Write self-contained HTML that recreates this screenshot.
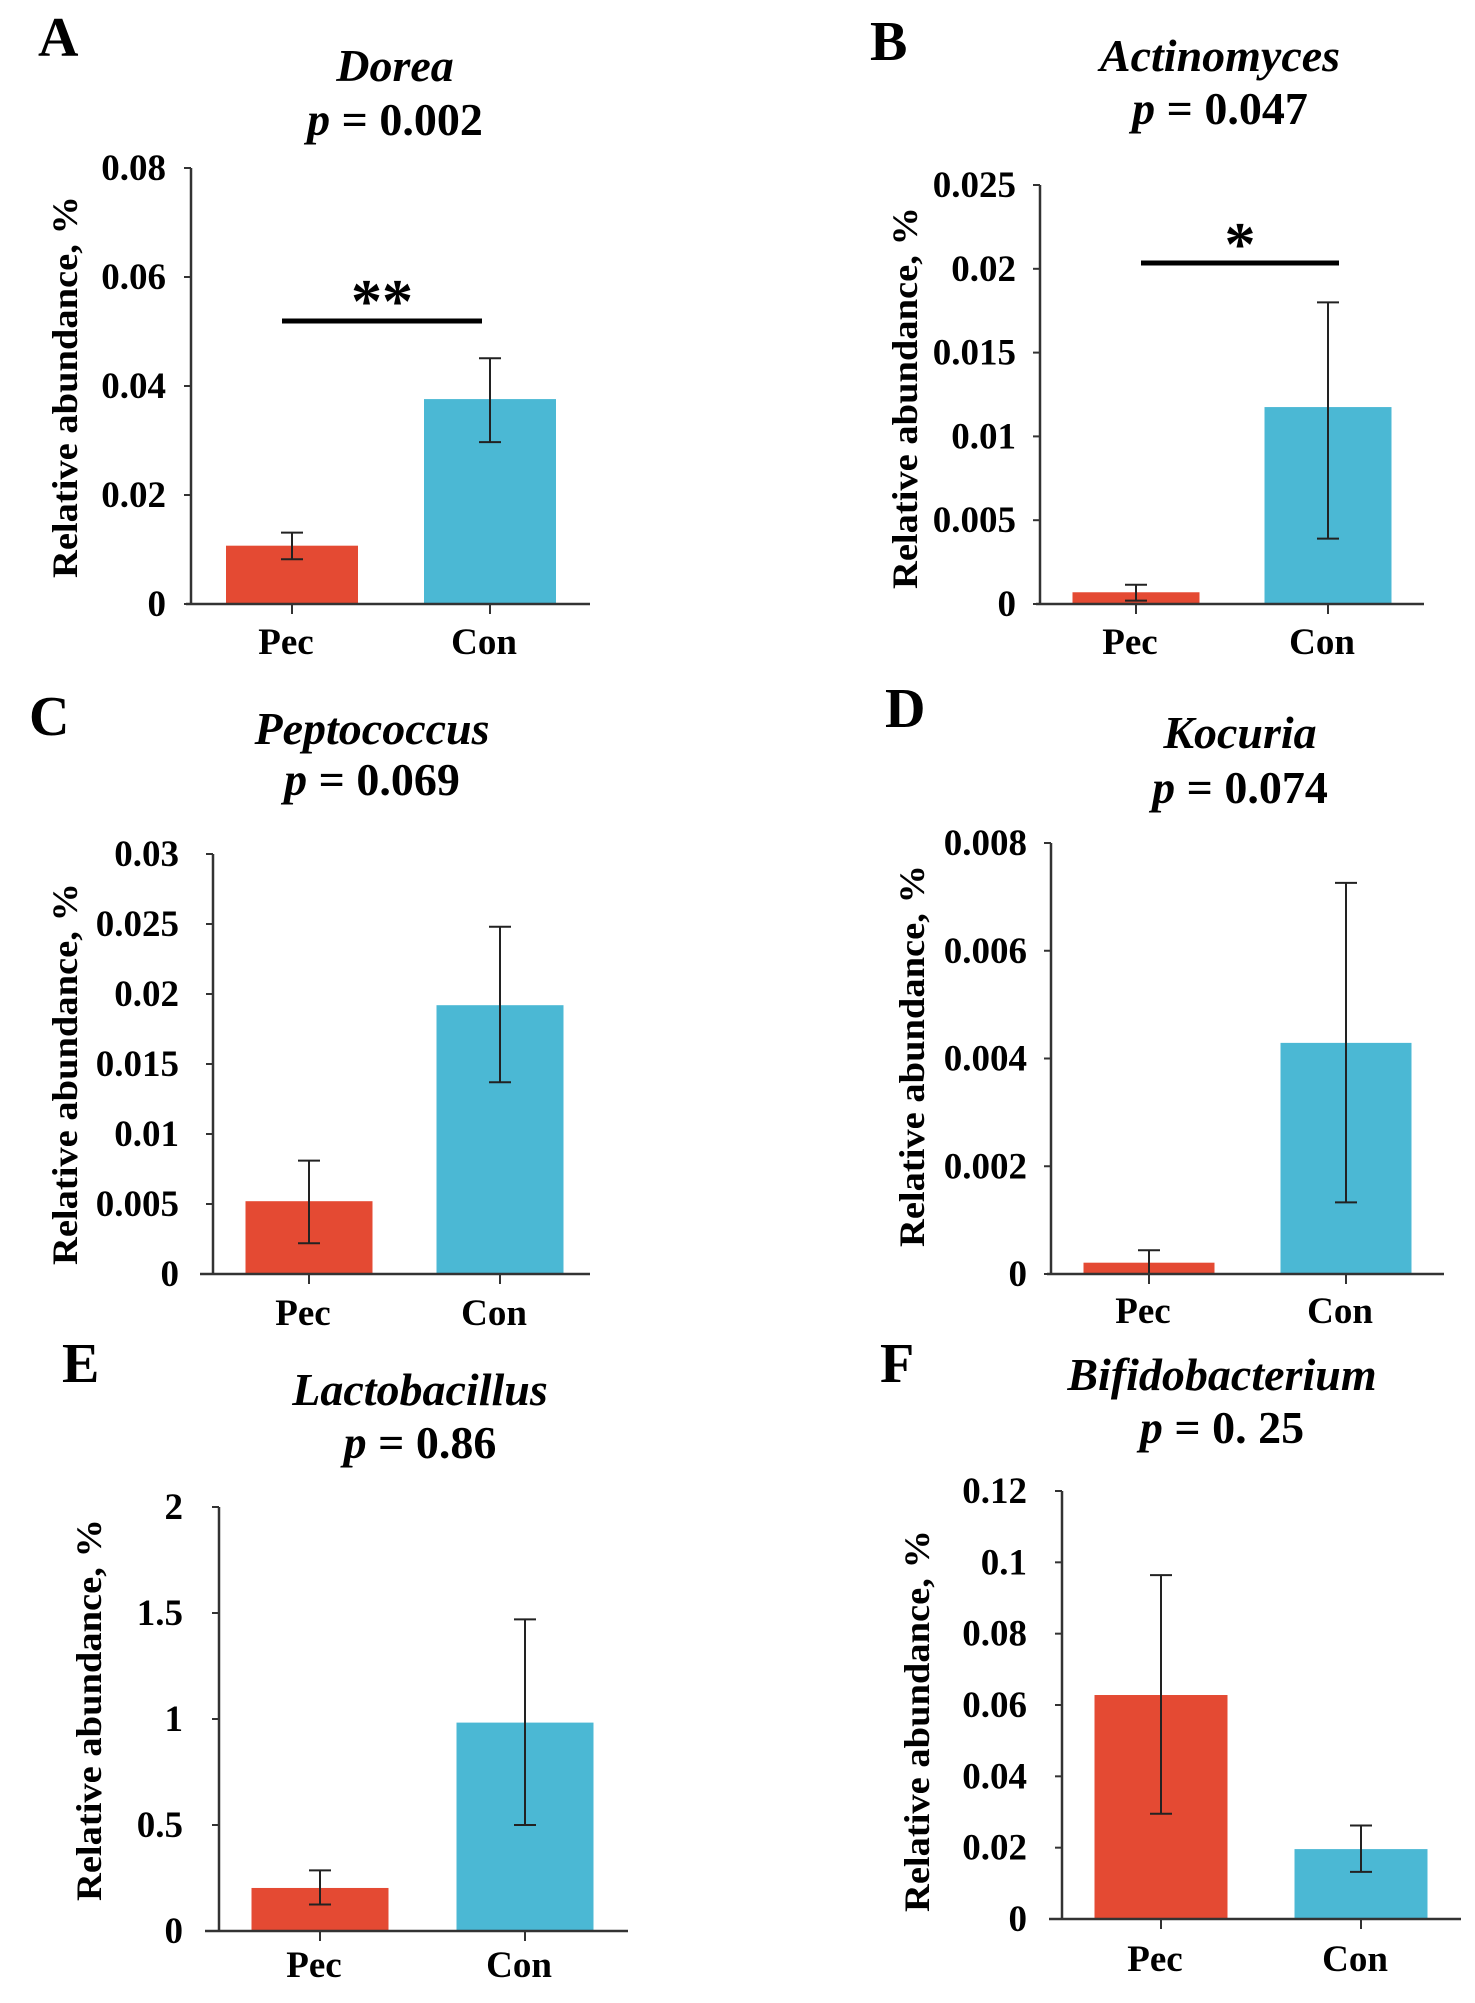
<!DOCTYPE html>
<html><head><meta charset="utf-8"><style>
html,body{margin:0;padding:0;background:#fff;}
svg{display:block;font-family:"Liberation Serif","Times New Roman",serif;}
</style></head><body>
<svg id="fig" width="1475" height="2003" viewBox="0 0 1475 2003" xmlns="http://www.w3.org/2000/svg"></svg>
<script>
// ---- data ----
const categories = ["Pec", "Con"];
const meansA = [0.0107, 0.0376];
const upperA = [0.0131, 0.0451];
const lowerA = [0.0082, 0.0297];
const ticksA = ["0", "0.02", "0.04", "0.06", "0.08"];
const tickValsA = [0, 0.02, 0.04, 0.06, 0.08];

const meansB = [0.0007, 0.01175];
const upperB = [0.00115, 0.018];
const lowerB = [0.0002, 0.0039];
const ticksB = ["0", "0.005", "0.01", "0.015", "0.02", "0.025"];
const tickValsB = [0, 0.005, 0.01, 0.015, 0.02, 0.025];

const meansC = [0.0052, 0.0192];
const upperC = [0.0081, 0.0248];
const lowerC = [0.0022, 0.0137];
const ticksC = ["0", "0.005", "0.01", "0.015", "0.02", "0.025", "0.03"];
const tickValsC = [0, 0.005, 0.01, 0.015, 0.02, 0.025, 0.03];

const meansD = [0.00021, 0.00429];
const upperD = [0.00044, 0.00726];
const lowerD = [0.0, 0.00133];
const ticksD = ["0", "0.002", "0.004", "0.006", "0.008"];
const tickValsD = [0, 0.002, 0.004, 0.006, 0.008];

const meansE = [0.203, 0.983];
const upperE = [0.286, 1.47];
const lowerE = [0.125, 0.50];
const ticksE = ["0", "0.5", "1", "1.5", "2"];
const tickValsE = [0, 0.5, 1, 1.5, 2];

const meansF = [0.0628, 0.0196];
const upperF = [0.0964, 0.0262];
const lowerF = [0.0295, 0.0132];
const ticksF = ["0", "0.02", "0.04", "0.06", "0.08", "0.1", "0.12"];
const tickValsF = [0, 0.02, 0.04, 0.06, 0.08, 0.1, 0.12];

const colors = ["#E44A33", "#4BB8D4"];

// ---- layout (geometry, not data) ----
const panels = [
 {id:"a",letter:"A",lx:38,ly:56,genus:"Dorea",p:"p = 0.002",tx:395,t1:81,t2:135,
  ax:191,ymax:0.08,yTop:168,y0:604,xa0:186,xa1:590,cx:[292,490],bw:132,tickR:166,
  catY:654,atX:64,atY:387,means:meansA,upper:upperA,lower:lowerA,ticks:ticksA,tv:tickValsA,
  sig:{x0:282,x1:482,y:321,txt:"**",sy:292}},
 {id:"b",letter:"B",lx:870,ly:60,genus:"Actinomyces",p:"p = 0.047",tx:1220,t1:71,t2:124,
  ax:1040,ymax:0.025,yTop:185,y0:604,xa0:1036,xa1:1424,cx:[1136,1328],bw:127,tickR:1016,
  catY:654,atX:904,atY:398,means:meansB,upper:upperB,lower:lowerB,ticks:ticksB,tv:tickValsB,
  sig:{x0:1141,x1:1339,y:263,txt:"*",sy:235}},
 {id:"c",letter:"C",lx:29,ly:735,genus:"Peptococcus",p:"p = 0.069",tx:372,t1:744,t2:795,
  ax:213,ymax:0.03,yTop:854,y0:1274,xa0:200,xa1:590,cx:[309,500],bw:127,tickR:179,
  catY:1325,atX:64,atY:1074,means:meansC,upper:upperC,lower:lowerC,ticks:ticksC,tv:tickValsC},
 {id:"d",letter:"D",lx:885,ly:727,genus:"Kocuria",p:"p = 0.074",tx:1240,t1:748,t2:803,
  ax:1051,ymax:0.008,yTop:843,y0:1274,xa0:1047,xa1:1444,cx:[1149,1346],bw:131,tickR:1027,
  catY:1323,atX:911,atY:1056,means:meansD,upper:upperD,lower:lowerD,ticks:ticksD,tv:tickValsD},
 {id:"e",letter:"E",lx:62,ly:1382,genus:"Lactobacillus",p:"p = 0.86",tx:420,t1:1405,t2:1458,
  ax:219,ymax:2,yTop:1507,y0:1931,xa0:205,xa1:628,cx:[320,525],bw:137,tickR:183,
  catY:1977,atX:88,atY:1710,means:meansE,upper:upperE,lower:lowerE,ticks:ticksE,tv:tickValsE},
 {id:"f",letter:"F",lx:880,ly:1382,genus:"Bifidobacterium",p:"p = 0. 25",tx:1222,t1:1390,t2:1443,
  ax:1062,ymax:0.12,yTop:1491,y0:1919,xa0:1049,xa1:1461,cx:[1161,1361],bw:133,tickR:1027,
  catY:1971,atX:916,atY:1721,means:meansF,upper:upperF,lower:lowerF,ticks:ticksF,tv:tickValsF}
];

const NS = "http://www.w3.org/2000/svg";
const svg = document.getElementById("fig");
function mk(tag, attrs, parent, text){
  const e = document.createElementNS(NS, tag);
  for (const k in attrs) e.setAttribute(k, attrs[k]);
  if (text !== undefined) e.textContent = text;
  parent.appendChild(e);
  return e;
}

panels.forEach(P => {
  const g = mk("g", {}, svg);
  
  
  const yScale = v => P.y0 - (v / P.ymax) * (P.y0 - P.yTop);

  const L = mk("text", {x:P.lx, y:P.ly, "font-size":56, "font-weight":"bold"}, g, P.letter);
  
  

  const t1 = mk("text", {x:P.tx, y:P.t1, "font-size":46, "font-weight":"bold", "font-style":"italic", "text-anchor":"middle"}, g, P.genus);
  
  
  const t2 = mk("text", {x:P.tx, y:P.t2, "font-size":46, "font-weight":"bold", "text-anchor":"middle"}, g);
  
  
  mk("tspan", {"font-style":"italic"}, t2, "p");
  mk("tspan", {}, t2, P.p.slice(1));

  const ya = mk("line", {x1:P.ax, y1:P.yTop, x2:P.ax, y2:P.y0, stroke:"#333", "stroke-width":2.5}, g);
  
  
  P.tv.forEach((v, i) => {
    const y = yScale(v);
    const tk = mk("line", {x1:P.ax-7, y1:y, x2:P.ax, y2:y, stroke:"#333", "stroke-width":2}, g);
    
    
    const tl = mk("text", {x:P.tickR, y:y+12, "font-size":37, "font-weight":"bold", "text-anchor":"end"}, g, P.ticks[i]);
    
    
  });
  const at = mk("text", {x:0, y:0, "font-size":36, "font-weight":"bold", "text-anchor":"middle",
    "textLength":382, "lengthAdjust":"spacingAndGlyphs",
    transform:`translate(${P.atX + 13},${P.atY}) rotate(-90)`}, g, "Relative abundance, %");
  
  

  categories.forEach((c, i) => {
    const yt = yScale(P.means[i]);
    const b = mk("rect", {x:P.cx[i]-P.bw/2, y:yt, width:P.bw, height:P.y0-yt, fill:colors[i]}, g);
    
    
    const yu = yScale(P.upper[i]), yl = yScale(P.lower[i]);
    const eg = mk("g", {stroke:"#222", "stroke-width":2}, g);
    
    
    mk("line", {x1:P.cx[i], y1:yu, x2:P.cx[i], y2:yl}, eg);
    mk("line", {x1:P.cx[i]-11, y1:yu, x2:P.cx[i]+11, y2:yu}, eg);
    mk("line", {x1:P.cx[i]-11, y1:yl, x2:P.cx[i]+11, y2:yl}, eg);
    const xt = mk("line", {x1:P.cx[i], y1:P.y0, x2:P.cx[i], y2:P.y0+10, stroke:"#333", "stroke-width":2}, g);
    
    
    const cl = mk("text", {x:P.cx[i]-6, y:P.catY, "font-size":37, "font-weight":"bold", "text-anchor":"middle"}, g, c);
    
    
  });
  const xa = mk("line", {x1:P.xa0, y1:P.y0, x2:P.xa1, y2:P.y0, stroke:"#333", "stroke-width":2.5}, g);
  
  

  if (P.sig) {
    const sl = mk("line", {x1:P.sig.x0, y1:P.sig.y, x2:P.sig.x1, y2:P.sig.y, stroke:"#000", "stroke-width":5}, g);
    
    
    const st = mk("text", {x:(P.sig.x0+P.sig.x1)/2, y:P.sig.sy+30, "font-size":62, "font-weight":"bold", "text-anchor":"middle"}, g, P.sig.txt);
    
    
  }
});
</script>
</body></html>
